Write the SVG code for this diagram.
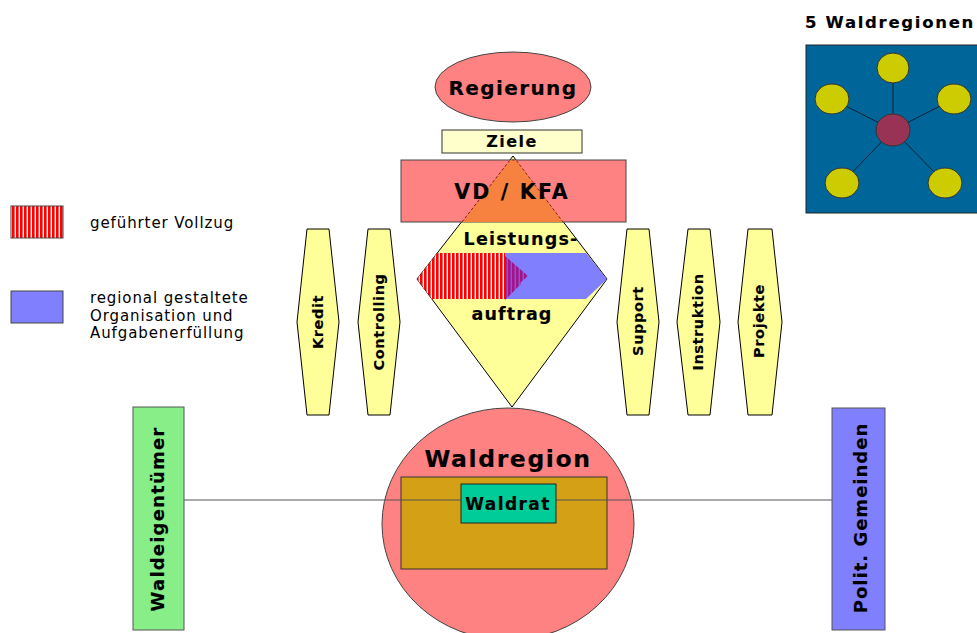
<svg xmlns="http://www.w3.org/2000/svg" width="977" height="633" viewBox="0 0 977 633">
<defs>
<pattern id="stripes" patternUnits="userSpaceOnUse" width="4" height="4">
<rect width="4" height="4" fill="#ffffff"/>
<rect width="2.6" height="4" fill="#ff0000"/>
</pattern>
<pattern id="pstripes" patternUnits="userSpaceOnUse" width="4" height="4">
<rect width="4" height="4" fill="#6666dd"/>
<rect width="2.6" height="4" fill="#aa1188"/>
</pattern>
<clipPath id="dia"><polygon points="513,156 607,279 512,407 417,279"/></clipPath>
<style>
.b{font-family:"DejaVu Sans","Liberation Sans",Verdana,sans-serif;font-weight:bold;fill:#000;stroke:#000;stroke-width:0.15px;text-anchor:middle}
.n{font-family:"DejaVu Sans","Liberation Sans",Verdana,sans-serif;font-size:15px;letter-spacing:0.9px;fill:#000}
.v{font-size:14.5px;letter-spacing:0.6px}
.hex{fill:#ffff99;stroke:#000;stroke-width:1}
.pink{fill:#ff8282;stroke:#444;stroke-width:1}
</style>
</defs>
<rect width="977" height="633" fill="#ffffff"/>

<g id="legend">
<rect x="11" y="206" width="52" height="32" fill="url(#stripes)" stroke="#444" stroke-width="1"/>
<text class="n" x="90" y="228">geführter Vollzug</text>
<rect x="11" y="291" width="52" height="32" fill="#8080ff" stroke="#444" stroke-width="1"/>
<text class="n" x="90" y="303">regional gestaltete</text>
<text class="n" x="90" y="321">Organisation und</text>
<text class="n" x="90" y="338">Aufgabenerfüllung</text>
</g>

<g id="waldregionen5">
<text class="b" x="890" y="28" font-size="16.5" letter-spacing="1.7">5 Waldregionen</text>
<rect x="806" y="45" width="172" height="168" fill="#006699" stroke="#222" stroke-width="1"/>
<g stroke="#102030" stroke-width="1">
<line x1="893" y1="130" x2="893" y2="68"/>
<line x1="893" y1="130" x2="832" y2="99"/>
<line x1="893" y1="130" x2="954" y2="99"/>
<line x1="893" y1="130" x2="842" y2="183"/>
<line x1="893" y1="130" x2="945" y2="183"/>
</g>
<g fill="#cccc00" stroke="#333" stroke-width="1">
<ellipse cx="893" cy="68" rx="16" ry="15"/>
<ellipse cx="832" cy="99" rx="17" ry="15"/>
<ellipse cx="954" cy="99" rx="17" ry="15"/>
<ellipse cx="842" cy="183" rx="17" ry="15"/>
<ellipse cx="945" cy="183" rx="17" ry="15"/>
</g>
<ellipse cx="893" cy="130" rx="17" ry="16" fill="#993355" stroke="#333" stroke-width="1"/>
</g>

<g id="regierung">
<ellipse class="pink" cx="513" cy="87" rx="78" ry="35"/>
<text class="b" x="513" y="95" font-size="20" letter-spacing="1.4">Regierung</text>
</g>

<g id="ziele">
<rect x="442" y="130" width="140" height="23" fill="#ffffcc" stroke="#333" stroke-width="1"/>
<text class="b" x="512" y="147" font-size="16" letter-spacing="1.4">Ziele</text>
</g>

<g id="leistungsauftrag">
<polygon points="513,156 607,279 512,407 417,279" fill="#ffff99" stroke="#000" stroke-width="1"/>
<g clip-path="url(#dia)">
<rect x="400" y="253" width="105" height="46" fill="url(#stripes)"/>
<polygon points="505,253 586,253 607,279 586,299 505,299" fill="#8080ff"/>
<polygon points="505,256 528,276 505,296" fill="url(#pstripes)"/>
<polygon points="505,268 521,284 505,300" fill="url(#pstripes)"/>
</g>
<text class="b" x="521" y="245" font-size="17.5" letter-spacing="1.2">Leistungs-</text>
<text class="b" x="512" y="320" font-size="17.5" letter-spacing="1.1">auftrag</text>
</g>

<g id="vdkfa">
<rect class="pink" x="401" y="160" width="225" height="62"/>
<polygon points="510,160 516,160 563,222 462,222" fill="#f7823f"/>
<polyline points="462,222 510,160 516,160 563,222" fill="none" stroke="#802020" stroke-width="1" stroke-dasharray="3,2"/>
<text class="b" x="512" y="199" font-size="20.5" letter-spacing="2.2">VD / KFA</text>
</g>

<g id="kredit">
<polygon class="hex" points="307,229 329,229 339,322 329,415 307,415 297,322"/>
<text class="b v" transform="translate(318,322) rotate(-90)" dominant-baseline="central">Kredit</text>
</g>
<g id="controlling">
<polygon class="hex" points="368,229 390,229 400,322 390,415 368,415 358,322"/>
<text class="b v" transform="translate(379,322) rotate(-90)" dominant-baseline="central">Controlling</text>
</g>
<g id="support">
<polygon class="hex" points="627,229 649,229 659,322 649,415 627,415 617,322"/>
<text class="b v" transform="translate(638,321) rotate(-90)" dominant-baseline="central">Support</text>
</g>
<g id="instruktion">
<polygon class="hex" points="688,229 710,229 720,322 710,415 688,415 677,322"/>
<text class="b v" transform="translate(698,322) rotate(-90)" dominant-baseline="central">Instruktion</text>
</g>
<g id="projekte">
<polygon class="hex" points="748,229 772,229 782,322 772,415 748,415 738,322"/>
<text class="b v" transform="translate(759,321) rotate(-90)" dominant-baseline="central">Projekte</text>
</g>

<g id="waldregion">
<ellipse class="pink" cx="508" cy="524" rx="126" ry="116"/>
<text class="b" x="508" y="467" font-size="23.5" letter-spacing="1.6">Waldregion</text>
<rect x="401" y="477" width="206" height="92" fill="#d4a016" stroke="#333" stroke-width="1"/>
</g>

<g id="connectors">
<line x1="184" y1="500" x2="832" y2="500" stroke="#555" stroke-width="1"/>
</g>

<g id="waldrat">
<rect x="461" y="484" width="95" height="39" fill="#00cc99" stroke="#222" stroke-width="1"/>
<text class="b" x="508" y="510" font-size="17" letter-spacing="1.4">Waldrat</text>
</g>

<g id="waldeigentuemer">
<rect x="133" y="407" width="51" height="223" fill="#88ee88" stroke="#555" stroke-width="1"/>
<text class="b" font-size="18" letter-spacing="1.2" transform="translate(157,519) rotate(-90)" dominant-baseline="central">Waldeigentümer</text>
</g>

<g id="politgemeinden">
<rect x="832" y="408" width="53" height="222" fill="#8080ff" stroke="#555" stroke-width="1"/>
<text class="b" font-size="18" letter-spacing="1.0" transform="translate(860,518) rotate(-90)" dominant-baseline="central">Polit. Gemeinden</text>
</g>
</svg>
